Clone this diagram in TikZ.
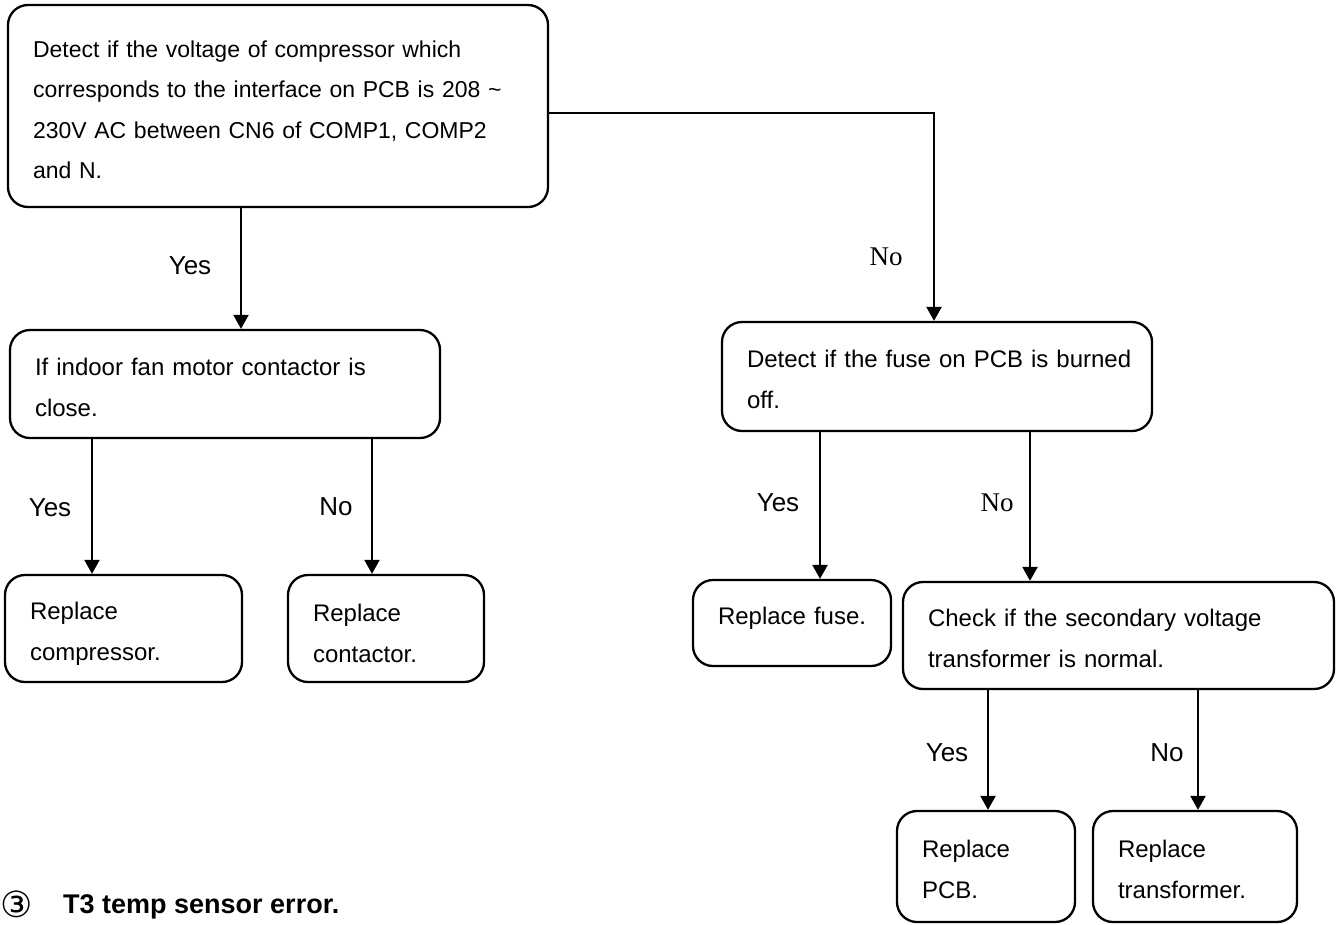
\documentclass[tikz,border=0pt]{standalone}
\usepackage{fontspec}
\setmainfont{Liberation Sans}
\newfontfamily\timesfont{Liberation Serif}
\newfontfamily\dejavufont{DejaVu Sans}
\usetikzlibrary{arrows.meta}
\newcommand\tstrut{\rule{0pt}{24pt}}
\newcommand\tstrutb{\rule{0pt}{27pt}}
\begin{document}
\begin{tikzpicture}[x=1pt,y=-1pt,
  box/.style={draw,line width=2.3pt,rounded corners=20pt,align=left,
    inner xsep=25pt,inner ysep=0pt,font=\fontsize{24}{41}\selectfont},
  arr/.style={line width=2.3pt,-{Triangle[length=14pt,width=15pt]}},
  lab/.style={font=\fontsize{26}{30}\selectfont,inner sep=0pt},
  labs/.style={font=\timesfont\fontsize{27}{30}\selectfont,inner sep=0pt},
  head/.style={font=\bfseries\fontsize{27}{30}\selectfont,inner sep=0pt}]
\useasboundingbox (0,0) rectangle (1340,924);
% boxes
\node[box,text width=490pt,minimum height=202pt,font=\fontsize{23}{40.5}\selectfont] (top) at (278,106)
  {\tstrut\mbox{Detect if the voltage of compressor which}\\\mbox{corresponds to the interface on PCB is 208 \char`\~}\\\mbox{230V AC between CN6 of COMP1, COMP2}\\and N.};
\node[box,text width=380pt,minimum height=108pt] (A) at (225,384)
  {\tstrut\mbox{If indoor fan motor contactor is}\\close.};
\node[box,text width=187pt,minimum height=107pt] (comp) at (123.5,628.5)
  {\tstrutb Replace\\compressor.};
\node[box,text width=146pt,minimum height=107pt] (cont) at (386,628.5)
  {\tstrutb Replace\\contactor.};
\node[box,text width=380pt,minimum height=109pt] (B) at (937,376.5)
  {\tstrut\mbox{Detect if the fuse on PCB is burned}\\off.};
\node[box,text width=148pt,minimum height=86pt] (fuse) at (792,623)
  {\mbox{Replace fuse.}\rule[-15pt]{0pt}{1pt}};
\node[box,text width=381pt,minimum height=107pt] (C) at (1118.5,635.5)
  {\tstrut\mbox{Check if the secondary voltage}\\\mbox{transformer is normal.}};
\node[box,text width=128pt,minimum height=111pt] (pcb) at (986,866.5)
  {\tstrut Replace\\PCB.};
\node[box,text width=154pt,minimum height=111pt] (trans) at (1195,866.5)
  {\tstrut Replace\\\mbox{transformer.}};
% column coordinates
\coordinate (c1) at (241,0);
\coordinate (k1) at (934,113);
\coordinate (c2) at (92,0);
\coordinate (c3) at (372,0);
\coordinate (c4) at (820,0);
\coordinate (c5) at (1030,0);
\coordinate (c6) at (988,0);
\coordinate (c7) at (1198,0);
% connectors
\draw[arr] (top.south -| c1) -- (A.north -| c1);
\draw[arr] (top.east |- k1) -- (k1) -- (B.north -| k1);
\draw[arr] (A.south -| c2) -- (comp.north -| c2);
\draw[arr] (A.south -| c3) -- (cont.north -| c3);
\draw[arr] (B.south -| c4) -- (fuse.north -| c4);
\draw[arr] (B.south -| c5) -- (C.north -| c5);
\draw[arr] (C.south -| c6) -- (pcb.north -| c6);
\draw[arr] (C.south -| c7) -- (trans.north -| c7);
% labels
\node[lab] (y1) at (190,266) {Yes};
\node[labs] (n1) at (886,257) {No};
\node[lab] (y2) at (50,508) {Yes};
\node[lab] (n2) at (336,507) {No};
\node[lab] (y3) at (778,503) {Yes};
\node[labs] (n3) at (997,503) {No};
\node[lab] (y4) at (947,753) {Yes};
\node[lab] (n4) at (1167,753) {No};
% heading
\node[font=\dejavufont\fontsize{36}{40}\selectfont,inner sep=0pt] (num) at (17,904) {③};
\node[head,anchor=base west] (ht) at (63,913) {T3 temp sensor error.};
\end{tikzpicture}
\end{document}
